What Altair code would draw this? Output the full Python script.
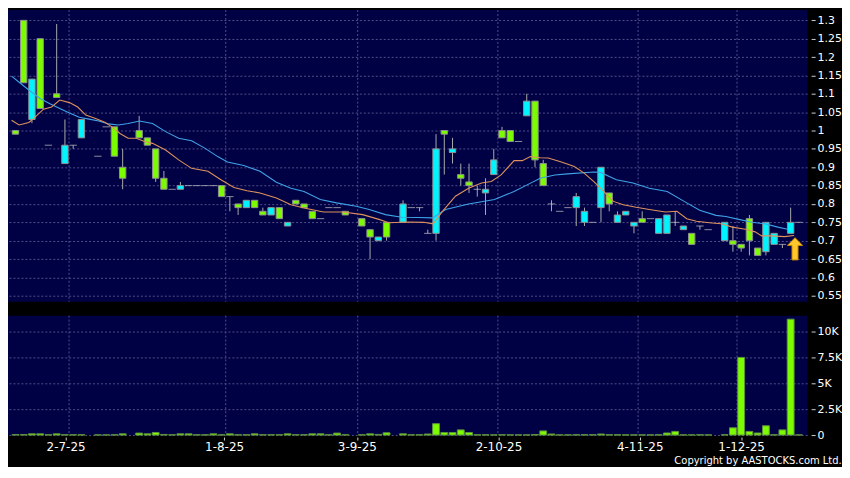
import altair as alt
import pandas as pd

# ---------------- data ----------------
candle_idx = [0, 1, 2, 3, 4, 5, 6, 7, 8, 10,
              11, 12, 13, 15, 16, 17, 18, 19, 20, 21,
              22, 23, 24, 25, 26, 27, 28, 29, 30, 31,
              32, 33, 34, 35, 36, 37, 38, 39, 40, 42,
              43, 44, 45, 47, 48, 49, 50, 51, 52, 53,
              54, 55, 56, 57, 58, 59, 60, 61, 62, 63,
              64, 65, 66, 67, 68, 69, 70, 71, 72, 73,
              74, 75, 76, 77, 78, 79, 80, 81, 82, 83,
              84, 86, 87, 88, 89, 90, 91, 92, 93, 94, 95]
open_price = [1.00, 1.30, 1.03, 1.25, 0.96, 1.10, 0.91, 0.96, 0.98, 0.93,
              1.01, 1.01, 0.90, 1.00, 0.98, 0.95, 0.87, 0.84, 0.84, 0.85,
              0.85, 0.85, 0.85, 0.85, 0.82, 0.80, 0.79, 0.81, 0.78, 0.77,
              0.79, 0.74, 0.81, 0.80, 0.78, 0.76, 0.79, 0.79, 0.78, 0.76,
              0.73, 0.70, 0.75, 0.75, 0.79, 0.79, 0.72, 0.72, 1.00, 0.94,
              0.88, 0.86, 0.84, 0.83, 0.88, 1.00, 1.00, 0.97, 1.04, 1.08,
              0.91, 0.80, 0.78, 0.79, 0.79, 0.75, 0.75, 0.79, 0.83, 0.75,
              0.77, 0.74, 0.76, 0.76, 0.72, 0.72, 0.75, 0.73, 0.72, 0.74,
              0.73, 0.70, 0.70, 0.69, 0.76, 0.68, 0.67, 0.69, 0.69, 0.72, 0.75]
high_price = [1.00, 1.30, 1.14, 1.25, 0.96, 1.29, 1.03, 0.96, 1.03, 0.93,
              1.01, 1.01, 0.95, 1.04, 0.98, 0.95, 0.89, 0.84, 0.86, 0.85,
              0.85, 0.85, 0.85, 0.85, 0.82, 0.80, 0.81, 0.81, 0.79, 0.79,
              0.79, 0.75, 0.81, 0.80, 0.78, 0.76, 0.79, 0.79, 0.78, 0.76,
              0.73, 0.71, 0.75, 0.81, 0.79, 0.79, 0.73, 0.99, 1.00, 0.98,
              0.91, 0.91, 0.85, 0.87, 0.95, 1.01, 1.00, 0.97, 1.10, 1.08,
              0.92, 0.81, 0.78, 0.79, 0.83, 0.79, 0.75, 0.90, 0.83, 0.78,
              0.78, 0.75, 0.78, 0.76, 0.76, 0.77, 0.78, 0.74, 0.72, 0.74,
              0.73, 0.75, 0.74, 0.69, 0.77, 0.68, 0.75, 0.72, 0.69, 0.79, 0.75]
low_price = [0.99, 1.13, 1.02, 1.06, 0.96, 1.09, 0.91, 0.95, 0.98, 0.93,
             1.01, 0.93, 0.84, 0.98, 0.96, 0.86, 0.84, 0.84, 0.84, 0.85,
             0.85, 0.85, 0.85, 0.82, 0.78, 0.77, 0.79, 0.79, 0.77, 0.77,
             0.76, 0.74, 0.80, 0.79, 0.76, 0.76, 0.79, 0.79, 0.77, 0.74,
             0.65, 0.70, 0.70, 0.75, 0.79, 0.78, 0.72, 0.70, 0.88, 0.91,
             0.85, 0.83, 0.82, 0.77, 0.88, 0.98, 0.97, 0.97, 1.04, 0.90,
             0.85, 0.78, 0.78, 0.79, 0.74, 0.74, 0.75, 0.75, 0.78, 0.75,
             0.77, 0.72, 0.75, 0.76, 0.72, 0.72, 0.74, 0.73, 0.69, 0.73,
             0.73, 0.70, 0.67, 0.67, 0.66, 0.66, 0.66, 0.69, 0.68, 0.72, 0.75]
close_price = [0.99, 1.13, 1.14, 1.06, 0.96, 1.09, 0.96, 0.96, 1.03, 0.93,
               1.01, 0.93, 0.87, 0.98, 0.96, 0.87, 0.84, 0.84, 0.85, 0.85,
               0.85, 0.85, 0.85, 0.82, 0.82, 0.79, 0.81, 0.79, 0.77, 0.79,
               0.76, 0.75, 0.80, 0.79, 0.76, 0.76, 0.79, 0.79, 0.77, 0.74,
               0.71, 0.71, 0.71, 0.80, 0.79, 0.79, 0.72, 0.95, 0.99, 0.95,
               0.87, 0.85, 0.84, 0.84, 0.92, 0.98, 0.97, 0.97, 1.08, 0.92,
               0.85, 0.80, 0.78, 0.79, 0.82, 0.78, 0.75, 0.90, 0.80, 0.77,
               0.78, 0.75, 0.75, 0.76, 0.76, 0.77, 0.75, 0.74, 0.69, 0.74,
               0.73, 0.75, 0.69, 0.68, 0.70, 0.66, 0.75, 0.72, 0.69, 0.75, 0.75]
volume = [50, 50, 120, 120, 30, 120, 30, 30, 30, 20,
          20, 30, 120, 190, 120, 250, 60, 30, 120, 120,
          30, 30, 120, 30, 120, 30, 30, 120, 30, 30,
          30, 120, 30, 30, 120, 120, 30, 190, 30, 30,
          120, 60, 220, 120, 30, 30, 100, 1100, 250, 250,
          500, 250, 30, 30, 20, 30, 20, 20, 20, 50,
          400, 100, 20, 20, 30, 30, 30, 100, 30, 30,
          20, 20, 20, 20, 30, 200, 350, 20, 20, 30,
          20, 30, 700, 7500, 350, 200, 900, 30, 500, 11200, 20]

# moving averages (read as points along each line)
ma10_idx = [-0.47, 0.44, 1.62, 2.22, 3.4, 4.38, 5.37, 6.55, 7.55, 8.53,
            9.72, 10.9, 11.69, 12.68, 13.66, 14.66, 15.64, 16.62, 18.21, 19.79,
            21.36, 23.34, 24.92, 26.5, 28.08, 29.66, 31.64, 33.41, 34.99, 37.36,
            39.73, 42.1, 44.08, 45.26, 47.63, 49.5, 50.65, 51.78, 53.35, 54.94,
            56.52, 57.7, 58.89, 60.46, 61.46, 62.44, 63.63, 64.61, 66.2, 67.77,
            68.96, 70.14, 71.33, 72.51, 73.7, 75.27, 76.86, 78.83, 80.21, 81.4,
            82.58, 84.16, 85.55, 86.93, 88.51, 89.69, 90.49, 91.67, 93.25, 94.43]
ma10_val = [1.028, 1.015, 1.022, 1.033, 1.058, 1.064, 1.083, 1.076, 1.064, 1.042,
            1.033, 1.022, 1.010, 0.992, 0.979, 0.979, 0.970, 0.965, 0.947, 0.920,
            0.897, 0.889, 0.866, 0.845, 0.836, 0.830, 0.816, 0.798, 0.789, 0.778,
            0.778, 0.771, 0.758, 0.749, 0.751, 0.750, 0.746, 0.780, 0.821, 0.843,
            0.857, 0.861, 0.879, 0.918, 0.918, 0.929, 0.926, 0.925, 0.914, 0.902,
            0.884, 0.861, 0.834, 0.807, 0.798, 0.791, 0.785, 0.778, 0.780, 0.760,
            0.753, 0.749, 0.746, 0.737, 0.731, 0.724, 0.713, 0.713, 0.711, 0.714]
ma20_idx = [-0.47, 0.63, 1.81, 3.0, 4.18, 5.37, 6.55, 7.74, 8.92, 10.11,
            11.29, 12.48, 13.66, 15.05, 16.62, 18.21, 19.79, 21.36, 22.95, 24.53,
            25.71, 27.69, 29.66, 31.64, 33.41, 34.99, 36.97, 38.94, 41.32, 42.89,
            44.87, 46.84, 48.82, 50.59, 52.17, 54.94, 58.09, 60.46, 62.05, 63.63,
            65.4, 66.94, 70.14, 70.94, 72.87, 74.88, 76.86, 79.03, 81.4, 82.97,
            84.95, 86.14, 87.71, 89.3, 90.88, 92.45, 93.64]
ma20_val = [1.148, 1.128, 1.107, 1.087, 1.073, 1.060, 1.048, 1.036, 1.031, 1.026,
            1.018, 1.015, 1.019, 1.026, 1.019, 0.997, 0.979, 0.972, 0.952, 0.929,
            0.914, 0.905, 0.889, 0.859, 0.843, 0.834, 0.812, 0.803, 0.794, 0.785,
            0.771, 0.764, 0.763, 0.762, 0.785, 0.800, 0.812, 0.834, 0.852, 0.870,
            0.879, 0.882, 0.887, 0.886, 0.866, 0.857, 0.843, 0.834, 0.803, 0.783,
            0.769, 0.766, 0.758, 0.750, 0.746, 0.737, 0.731]

price_ticks = [0.55, 0.6, 0.65, 0.7, 0.75, 0.8, 0.85, 0.9, 0.95,
               1.0, 1.05, 1.1, 1.15, 1.2, 1.25, 1.3]
volume_ticks = [0, 2500, 5000, 7500, 10000]
date_tick_idx = [6.08, 25.3, 41.4, 58.57, 75.7, 88.0]
date_labels = ["2-7-25", "1-8-25", "3-9-25", "2-10-25", "4-11-25", "1-12-25"]
month_grid_idx = [6.5, 25.5, 41.5, 58.5, 75.5, 87.5]
signal_idx = [94.53]
signal_val = [0.678]

# ---------------- tables ----------------
candles = pd.DataFrame({"idx": candle_idx, "open": open_price, "high": high_price,
                        "low": low_price, "close": close_price, "volume": volume})
ma10 = pd.DataFrame({"idx": ma10_idx, "val": ma10_val})
ma20 = pd.DataFrame({"idx": ma20_idx, "val": ma20_val})
vgrid = pd.DataFrame({"idx": month_grid_idx})
signal = pd.DataFrame({"idx": signal_idx, "val": signal_val})

# ---------------- styles ----------------
FONT = "DejaVu Sans"
NAVY = "#000044"
GRID = "#50508a"
GREEN = "#7CFC00"
CYAN = "#00F4FF"
ORANGE = "#DE915C"
BLUE = "#3FA2E6"
ARROW = "M0,-1L0.68,-0.3L0.27,-0.3L0.27,1L-0.27,1L-0.27,-0.3L-0.68,-0.3Z"

x_scale = alt.Scale(domain=[-0.3, 95.4], nice=False, zero=False)
p_scale = alt.Scale(domain=[0.5339, 1.3279], nice=False, zero=False)
v_scale = alt.Scale(domain=[0, 11540], nice=False)

x_expr = " : ".join(f"abs(datum.value - {p}) < 0.3 ? '{t}'"
                    for p, t in zip(date_tick_idx, date_labels)) + " : ''"

price_axis = alt.Axis(orient="right", values=price_ticks, format="~g", grid=True,
                      gridColor=GRID, gridDash=[2, 2], gridWidth=1, domain=False,
                      tickColor="#cfcfcf", tickSize=4, offset=4, labelPadding=2,
                      labelColor="#ffffff", labelFont=FONT, labelFontSize=11, title=None)
vol_axis = alt.Axis(orient="right", values=volume_ticks,
                    labelExpr="datum.value == 0 ? '0' : format(datum.value / 1000, '~g') + 'K'",
                    grid=True, gridColor=GRID, gridDash=[2, 2], gridWidth=1, domain=False,
                    tickColor="#cfcfcf", tickSize=4, offset=4, labelPadding=2,
                    labelColor="#ffffff", labelFont=FONT, labelFontSize=11, title=None)
date_axis = alt.Axis(values=date_tick_idx, labelExpr=x_expr, grid=False, domain=False,
                     ticks=True, tickSize=3, tickColor="#cfcfcf", offset=2, labelPadding=2,
                     labelFlush=False, labelOverlap=False, labelColor="#ffffff",
                     labelFont=FONT, labelFontSize=12, title=None)


def xq(axis=None):
    return alt.X("idx:Q", scale=x_scale, axis=axis, title=None)


def yp(field):
    return alt.Y(field, scale=p_scale, axis=price_axis, title=None)


# ---- price panel ----
grid_p = alt.Chart(vgrid).mark_rule(color=GRID, strokeDash=[2, 2], strokeWidth=1).encode(x=xq())

wicks = alt.Chart(candles).mark_rule(color="#a9a9a9", strokeWidth=1).encode(
    x=xq(), y=yp("low:Q"), y2="high:Q")

bodies = alt.Chart(candles).transform_filter("datum.open != datum.close").mark_bar(
    size=6.4, stroke="#8f8f8f", strokeWidth=1).encode(
    x=xq(), y=yp("open:Q"), y2="close:Q",
    color=alt.condition("datum.close > datum.open", alt.value(CYAN), alt.value(GREEN)))

flats = alt.Chart(candles).transform_filter("datum.open == datum.close").mark_tick(
    orient="horizontal", size=7.4, thickness=1, color="#c8c8c8").encode(
    x=xq(), y=yp("close:Q"))

line20 = alt.Chart(ma20).mark_line(color=BLUE, strokeWidth=1.1).encode(x=xq(), y=yp("val:Q"))
line10 = alt.Chart(ma10).mark_line(color=ORANGE, strokeWidth=1.1).encode(x=xq(), y=yp("val:Q"))

arrow = alt.Chart(signal).mark_point(shape=ARROW, filled=True, size=500, fill="#FFC72C",
                                     stroke="#C98A00", strokeWidth=1, opacity=1).encode(
    x=xq(), y=yp("val:Q"))

price = alt.layer(grid_p, wicks, bodies, flats, line20, line10, arrow).properties(
    width=803, height=293)

# ---- volume panel ----
grid_v = alt.Chart(vgrid).mark_rule(color=GRID, strokeDash=[2, 2], strokeWidth=1).encode(
    x=xq(date_axis))

vol_bars = alt.Chart(candles).mark_bar(size=6.9, color=GREEN, stroke="#5f8f3f", strokeWidth=1).encode(
    x=xq(date_axis), y=alt.Y("volume:Q", scale=v_scale, axis=vol_axis, title=None))

volume_panel = alt.layer(grid_v, vol_bars).properties(
    width=803, height=120,
    title=alt.TitleParams(text="Copyright by AASTOCKS.com Ltd.", orient="bottom", anchor="end",
                          frame="bounds", color="#ffffff", font=FONT, fontSize=10,
                          fontWeight="normal", offset=3))

chart = alt.vconcat(price, volume_panel, spacing=12).properties(
    background="#000000",
    padding=0,
).configure_view(fill=NAVY, stroke=None)

chart.save("out.html", embed_options={"renderer": "svg", "actions": False})
